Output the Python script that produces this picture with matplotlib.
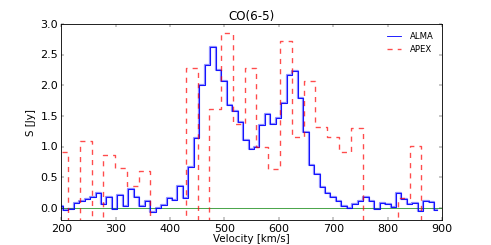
"""CO(6-5) スペクトル: ALMA と APEX の比較プロット。"""

import matplotlib

matplotlib.use("Agg")
import matplotlib.pyplot as plt

# ALMA チャンネル (中心速度 [km/s], 約 10 km/s 刻み)
alma_vel = [
    197.5, 207.5, 217.6, 227.6, 237.7, 247.7, 257.8, 267.8, 277.9, 287.9,
    298.0, 308.0, 318.1, 328.1, 338.2, 348.2, 358.3, 368.3, 378.4, 388.4,
    398.5, 408.5, 418.6, 428.6, 438.7, 448.7, 458.8, 468.8, 478.9, 488.9,
    499.0, 509.0, 519.1, 529.1, 539.2, 549.3, 559.3, 569.4, 579.4, 589.5,
    599.5, 609.6, 619.6, 629.7, 639.7, 649.8, 659.8, 669.9, 679.9, 690.0,
    700.0, 710.1, 720.1, 730.2, 740.2, 750.3, 760.3, 770.4, 780.4, 790.5,
    800.5, 810.6, 820.6, 830.7, 840.7, 850.8, 860.8, 870.9, 880.9, 891.0,
]
alma_flux = [
    0.04, -0.03, -0.015, 0.08, 0.11, 0.15, 0.19, 0.24, 0.065, 0.18,
    -0.01, 0.21, 0.03, 0.32, 0.18, 0.03, 0.125, -0.07, 0.01, 0.05,
    0.16, 0.14, 0.36, 0.16, 0.67, 1.14, 2.00, 2.34, 2.62, 2.25,
    2.08, 1.68, 1.58, 1.41, 1.11, 0.97, 1.00, 1.35, 1.53, 1.37,
    1.47, 1.71, 2.17, 2.23, 1.80, 1.24, 0.70, 0.55, 0.34, 0.245,
    0.19, 0.11, 0.03, 0.00, 0.07, 0.11, 0.19, 0.125, -0.015, 0.08,
    0.065, 0.015, 0.255, 0.15, 0.06, 0.09, -0.04, 0.115, 0.10, -0.03,
]

# APEX チャンネル (約 21.7 km/s 刻み, 負の値は枠外)
apex_vel = [
    201.3, 223.0, 244.7, 266.4, 288.0, 309.7, 331.4, 353.0, 374.7, 396.4,
    418.0, 439.7, 461.4, 483.1, 504.7, 526.4, 548.1, 569.7, 591.4, 613.1,
    634.7, 656.4, 678.1, 699.8, 721.4, 743.1, 764.8, 786.4, 808.1, 829.8,
    851.4, 873.1,
]
apex_flux = [
    0.92, -0.60, 1.10, -0.50, 0.87, 0.65, 0.36, 0.61, -0.70, -0.40,
    -0.80, 2.28, -0.50, 1.61, 2.86, 1.375, 2.29, 0.995, 0.64, 2.72,
    1.16, 2.08, 1.32, 1.16, 0.91, 1.30, -0.60, -0.90, -0.50, 0.17,
    1.02, -0.70,
]

plt.style.use("classic")

fig, ax = plt.subplots(figsize=(8, 4), facecolor="white")
fig.subplots_adjust(left=0.125, right=0.9, bottom=0.1, top=0.9)

ax.axhline(0.0, color="g", lw=1.2, alpha=0.7)
# ALMA: 太い半透明線 + 細線
ax.plot(alma_vel, alma_flux, drawstyle="steps-mid", color="b", lw=2.6, alpha=0.45)
ax.plot(alma_vel, alma_flux, drawstyle="steps-mid", color="b", lw=1.0, label="ALMA")
ax.plot(apex_vel, apex_flux, drawstyle="steps-mid", color="r", lw=1.6, ls="--",
        alpha=0.7, label="APEX")

ax.set_xlim(200, 900)
ax.set_ylim(-0.2, 3.0)
ax.set_xticks(range(200, 901, 100))
ax.set_yticks([0.0, 0.5, 1.0, 1.5, 2.0, 2.5, 3.0])
ax.tick_params(labelsize=13, pad=4)
ax.set_xlabel("Velocity [km/s]", fontsize=12, labelpad=0)
ax.set_ylabel("S [Jy]", fontsize=12, labelpad=5)
ax.set_title("CO(6-5)", fontsize=14)
ax.legend(loc="upper right", frameon=False, fontsize=10, handlelength=2.2)

fig.savefig("out.png", dpi=61.375, facecolor="white")
